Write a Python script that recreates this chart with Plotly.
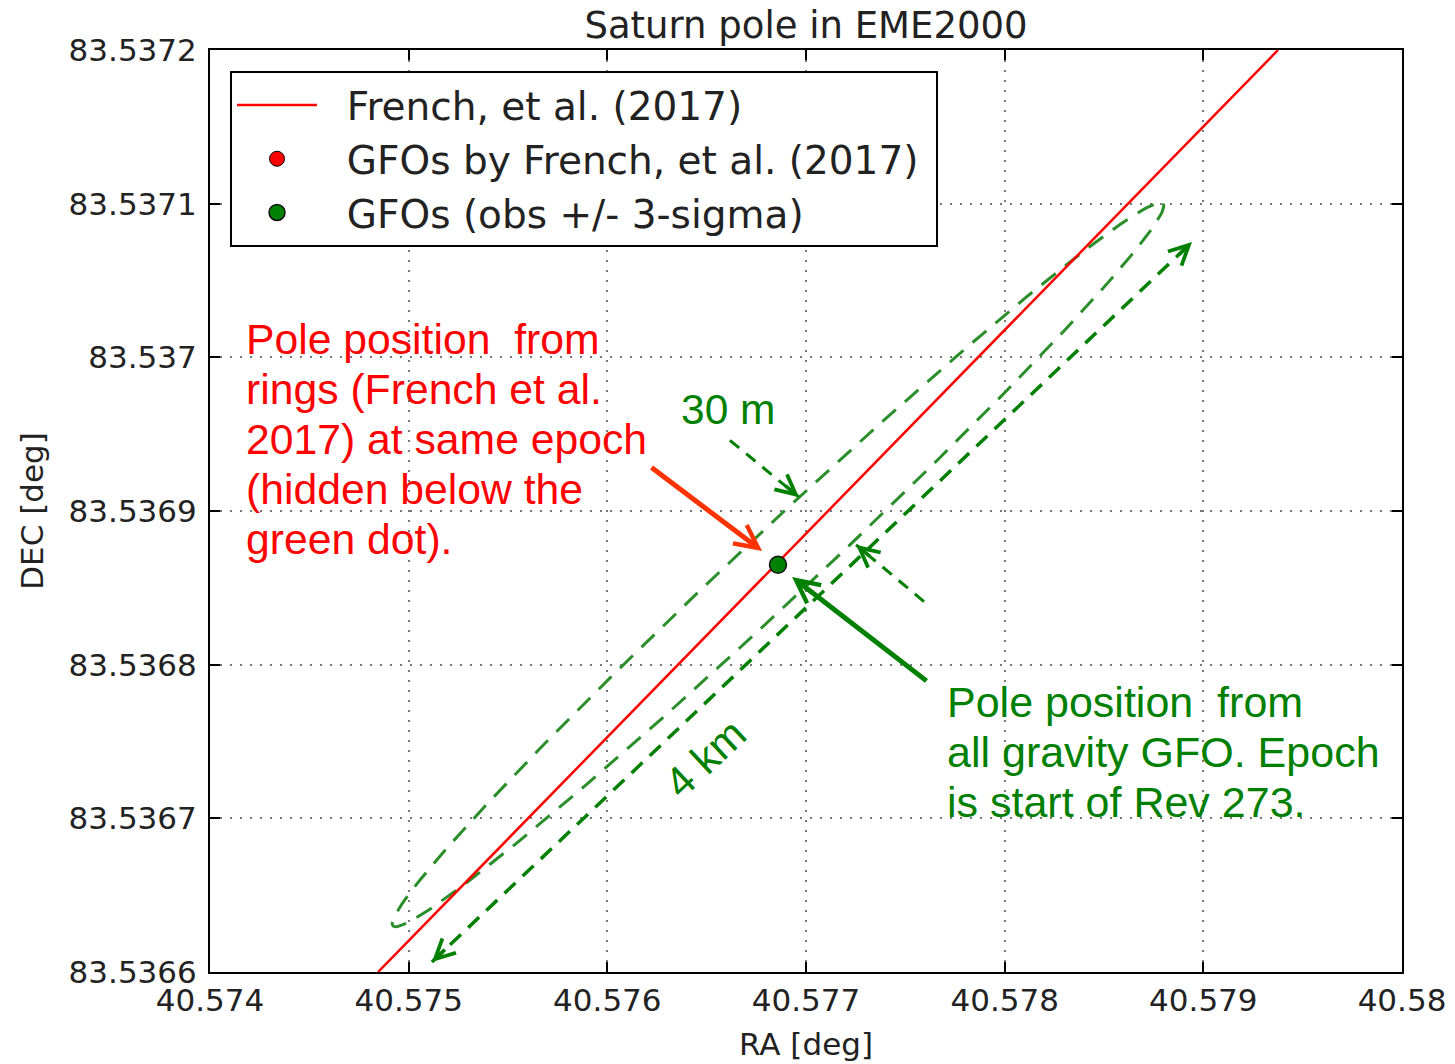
import numpy as np
import plotly.graph_objects as go

# ---------------- data ----------------
x_tick_vals = [40.574, 40.575, 40.576, 40.577, 40.578, 40.579, 40.580]
x_tick_text = ["40.574", "40.575", "40.576", "40.577", "40.578", "40.579", "40.58"]
y_tick_vals = [83.5366, 83.5367, 83.5368, 83.5369, 83.5370, 83.5371, 83.5372]
y_tick_text = ["83.5366", "83.5367", "83.5368", "83.5369", "83.537", "83.5371", "83.5372"]

french_line_ra = [40.574846, 40.579376]
french_line_dec = [83.5366, 83.5372]

gfo_french_ra = [40.576859]
gfo_french_dec = [83.536865]

gfo_obs_ra = [40.576859]
gfo_obs_dec = [83.536865]

# 3-sigma ellipse: centre, semi-major vector, semi-minor vector (deg)
ell_center = (40.576859, 83.536865)
ell_major = (0.001938, 0.000235)
ell_minor = (0.0001205, -0.0000166)

# annotation arrows (tail RA, tail DEC, head RA, head DEC)
red_arrow = (40.576215, 83.536929, 40.576779, 83.536874)
green_arrow = (40.577614, 83.5367887, 40.576930, 83.536857)
arrow_30m_a = (40.576617, 83.536946, 40.576965, 83.536909)
arrow_30m_b = (40.577594, 83.536841, 40.577252, 83.536878)
arrow_4km = (40.575117, 83.5366065, 40.578943, 83.537075)

legend_names = ["French, et al. (2017)", "GFOs by French, et al. (2017)", "GFOs (obs +/- 3-sigma)"]

GREEN = "#008000"
RED = "#ff0000"
NB = "\u00a0"

t = np.linspace(0, 2 * np.pi, 241)
ell_ra = ell_center[0] + np.cos(t) * ell_major[0] + np.sin(t) * ell_minor[0]
ell_dec = ell_center[1] + np.cos(t) * ell_major[1] + np.sin(t) * ell_minor[1]

fig = go.Figure()

fig.add_trace(go.Scatter(x=ell_ra, y=ell_dec, mode="lines", showlegend=False,
                         line=dict(color="#2a8f2a", width=3, dash="18px,12px"),
                         hoverinfo="skip"))
fig.add_trace(go.Scatter(x=french_line_ra, y=french_line_dec, mode="lines",
                         name=NB * 2 + legend_names[0],
                         line=dict(color=RED, width=2.5)))
fig.add_trace(go.Scatter(x=gfo_french_ra, y=gfo_french_dec, mode="markers",
                         name=NB * 2 + legend_names[1] + NB,
                         marker=dict(color=RED, size=15, line=dict(color="black", width=1))))
fig.add_trace(go.Scatter(x=gfo_obs_ra, y=gfo_obs_dec, mode="markers",
                         name=NB * 2 + legend_names[2],
                         marker=dict(color=GREEN, size=17, line=dict(color="#111", width=1.5))))

# dashed arrow shafts
for (x0, y0, x1, y1), w, d in [(arrow_30m_a, 3, "12px,9px"),
                               (arrow_30m_b, 3, "12px,9px"),
                               (arrow_4km, 3.5, "15px,10px")]:
    fig.add_shape(type="line", xref="x", yref="y", x0=x0, y0=y0, x1=x1, y1=y1,
                  line=dict(color=GREEN, width=w, dash=d))

annotations = []
# solid arrows
annotations.append(dict(x=red_arrow[2], y=red_arrow[3], ax=red_arrow[0], ay=red_arrow[1],
                        xref="x", yref="y", axref="x", ayref="y", text="",
                        showarrow=True, arrowhead=5, arrowsize=0.9, arrowwidth=5,
                        arrowcolor="#ff3300"))
annotations.append(dict(x=green_arrow[2], y=green_arrow[3], ax=green_arrow[0], ay=green_arrow[1],
                        xref="x", yref="y", axref="x", ayref="y", text="",
                        showarrow=True, arrowhead=5, arrowsize=0.9, arrowwidth=5,
                        arrowcolor=GREEN))
# heads of dashed arrows
for hx, hy, ax, ay in [(arrow_30m_a[2], arrow_30m_a[3], -15, -12.5),
                       (arrow_30m_b[2], arrow_30m_b[3], 15, 12.5),
                       (arrow_4km[2], arrow_4km[3], -14.5, 13.8),
                       (arrow_4km[0], arrow_4km[1], 14.5, -13.8)]:
    annotations.append(dict(x=hx, y=hy, ax=ax, ay=ay, xref="x", yref="y",
                            text="", showarrow=True, arrowhead=5, arrowsize=1.1,
                            arrowwidth=3.5, arrowcolor=GREEN))

ann_font = "Liberation Sans, Arial, sans-serif"
red_lines = ["Pole position" + NB * 2 + "from", "rings (French et al.", "2017) at same epoch",
             "(hidden below the", "green dot)."]
red_ys = [0.6866, 0.6323, 0.5781, 0.5239, 0.4696]
for txt, yy in zip(red_lines, red_ys):
    annotations.append(dict(x=0.0285, y=yy, xref="paper", yref="paper", text=txt,
                            showarrow=False, xanchor="left", yanchor="middle",
                            font=dict(family=ann_font, size=42.7, color=RED)))
green_lines = ["Pole position" + NB * 2 + "from", "all gravity GFO. Epoch", "is start of Rev 273."]
green_ys = [0.2928, 0.2386, 0.1844]
for txt, yy in zip(green_lines, green_ys):
    annotations.append(dict(x=0.6166, y=yy, xref="paper", yref="paper", text=txt,
                            showarrow=False, xanchor="left", yanchor="middle",
                            font=dict(family=ann_font, size=43, color=GREEN)))
annotations.append(dict(x=0.4346, y=0.6106, xref="paper", yref="paper", text="30 m",
                        showarrow=False, xanchor="center", yanchor="middle",
                        font=dict(family=ann_font, size=42.5, color=GREEN)))
annotations.append(dict(x=0.4153, y=0.2321, xref="paper", yref="paper", text="4 km",
                        showarrow=False, xanchor="center", yanchor="middle", textangle=-43,
                        font=dict(family=ann_font, size=42.5, color=GREEN)))

axis_font = dict(family="DejaVu Sans", size=31, color="#222")
common = dict(showline=True, linewidth=2, linecolor="black", mirror="ticks",
              ticks="inside", ticklen=10, tickwidth=1.5, tickcolor="black",
              showgrid=True, gridcolor="#777", gridwidth=1.5, griddash="2px,8px",
              zeroline=False, tickfont=axis_font)

fig.update_layout(
    width=1455, height=1064,
    margin=dict(l=210, r=53, t=50, b=92, autoexpand=False),
    paper_bgcolor="white", plot_bgcolor="white",
    title=dict(text="Saturn pole in EME2000", x=0.5, xref="paper", xanchor="center",
               y=1 - 25 / 1064, yref="container", yanchor="middle",
               font=dict(family="DejaVu Sans", size=37, color="#222")),
    xaxis=dict(range=[40.574, 40.580], tickvals=x_tick_vals, ticktext=x_tick_text,
               title=dict(text="RA [deg]", font=axis_font, standoff=16), **common),
    yaxis=dict(range=[83.5366, 83.5372], tickvals=y_tick_vals, ticktext=y_tick_text,
               ticklabelstandoff=5,
               title=dict(text="DEC [deg]", font=axis_font, standoff=16), **common),
    legend=dict(x=0.0168, y=0.977, xanchor="left", yanchor="top",
                bgcolor="white", bordercolor="black", borderwidth=2,
                font=dict(family="DejaVu Sans", size=39, color="#222"),
                itemwidth=80),
    annotations=annotations,
    showlegend=True,
)

fig.write_html("out.html", config={"displayModeBar": False},
               post_script="document.body.style.margin='0px';document.body.style.overflow='hidden';")
